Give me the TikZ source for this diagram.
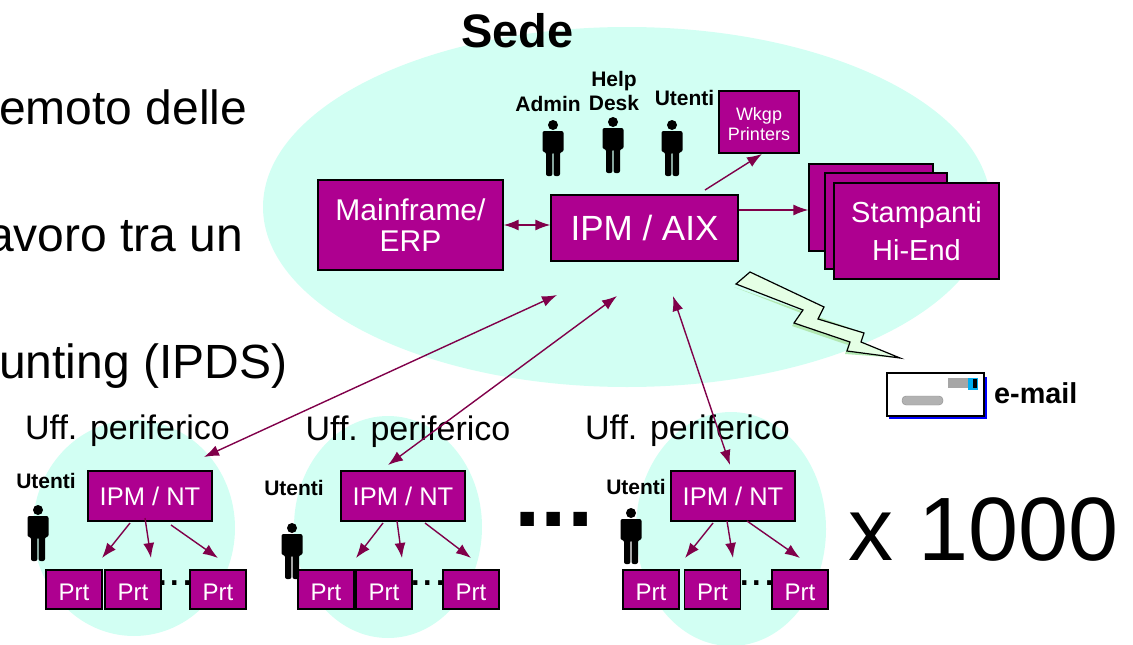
\documentclass[tikz,border=0pt]{standalone}
\usepackage{fontspec}
\setmainfont{Liberation Sans}
\usetikzlibrary{arrows.meta}
\definecolor{sedecol}{HTML}{D2FFF3}
\definecolor{boxcol}{HTML}{AE0090}
\definecolor{linkcol}{HTML}{80004A}
\newcommand{\fsize}[1]{\fontsize{#1}{\dimexpr #1pt*112/100\relax}\selectfont}
\tikzset{
	box/.style={draw=black,line width=1.3pt,fill=boxcol,text=white,align=center,inner sep=0pt},
	link/.style={->,draw=linkcol,line width=1.4pt},
	who/.style={font=\bfseries\fsize{21},align=center,inner sep=0pt},
	person/.pic={
		\fill[black] (0,-23) circle (5);
		\fill[black,rounded corners=2pt] (-10.5,-17) -- (10.5,-17) -- (10.5,4) -- (7,4) -- (7,28) -- (0.6,28) -- (0.6,4) -- (-0.6,4) -- (-0.6,28) -- (-7,28) -- (-7,4) -- (-10.5,4) -- cycle;
	}
}
\begin{document}
\begin{tikzpicture}[x=1pt,y=-1pt,>={Latex[length=15pt,width=11pt]}]
	\useasboundingbox (0,0) rectangle (1133,645);
	% the big and small clouds
	\fill[sedecol] (627,207) ellipse (364 and 180);
	\fill[sedecol] (134,528) ellipse (101 and 108);
	\fill[sedecol] (388,527) ellipse (94 and 111);
	\fill[sedecol] (731,529) ellipse (95 and 117);

	% text of the slide behind
	\node[anchor=base west,inner sep=0pt,font=\fsize{48}] (riga1) at (-1,124) {emoto delle};
	\node[anchor=base west,inner sep=0pt,font=\fsize{48}] (riga2) at (-13,251) {avoro tra un};
	\node[anchor=base west,inner sep=0pt,font=\fsize{48}] (riga3) at (-1,378) {unting (IPDS)};

	% the head office
	\node[inner sep=0pt,font=\bfseries\fsize{47}] (sede) at (517.5,31) {Sede};
	\node[box,minimum width=185,minimum height=90,font=\fsize{30}] (erp) at (410.5,225) {Mainframe/\\[-2pt]ERP};
	\node[box,minimum width=187,minimum height=66,font=\fsize{35}] (aix) at (644.5,228) {IPM / AIX};
	\node[box,minimum width=80,minimum height=62,font=\fsize{18}] (wkgp) at (759,122) {\rule{0pt}{17pt}Wkgp\\Printers};
	\node[box,minimum width=124,minimum height=87] (st3) at (871,207.5) {};
	\node[box,minimum width=122,minimum height=96] (st2) at (886,221) {};
	\node[box,minimum width=165,minimum height=96,font=\fsize{29}] (st1) at (916.5,231) {Stampanti\\[6pt]Hi-End};

	% the people of the head office
	\node[who] (admin) at (548,104) {Admin};
	\node[who] (help) at (614,91) {Help\\Desk};
	\node[who] (uten) at (684.5,98) {Utenti};
	\pic (padmin) at (553,148) {person};
	\pic (phelp) at (613,145) {person};
	\pic (puten) at (672,148) {person};

	% the three local offices
	\node[font=\fsize{34}] (uff1) at (127.5,431) {Uff. periferico};
	\node[font=\fsize{34}] (uff2) at (408,432) {Uff. periferico};
	\node[font=\fsize{34}] (uff3) at (687.5,431) {Uff. periferico};
	\foreach \nome/\xc in {a/150,b/403,c/733}{
		\node[box,minimum width=124,minimum height=50,font=\fsize{25.5}] (nt\nome) at (\xc,496) {IPM / NT};
	}
	\foreach \nome/\xc in {a1/74,a2/133,a3/218,b1/326,b2/384,b3/471,c1/651,c2/712.5,c3/800}{
		\node[box,minimum width=56,minimum height=39,font=\fsize{24},text height=21pt,text depth=0pt] (prt\nome) at (\xc,589.5) {Prt};
	}
	\node[who] (ua) at (46,481) {Utenti};
	\node[who] (ub) at (294,488) {Utenti};
	\node[who] (uc) at (636,487) {Utenti};
	\pic (pa) at (38,533) {person};
	\pic (pb) at (292,551) {person};
	\pic (pc) at (631,536) {person};

	% the dots
	\node[inner sep=0pt,font=\fsize{45}] (da) at (175,583) {...};
	\node[inner sep=0pt,font=\fsize{45}] (db) at (428,583) {...};
	\node[inner sep=0pt,font=\fsize{45}] (dc) at (757,583) {...};
	\node[inner sep=0pt,font=\bfseries\fsize{95}] (dd) at (554,519) {...};
	\node[inner sep=0pt,font=\fsize{90}] (mille) at (983.5,530) {x 1000};

	% the free ends of the arrows
	\coordinate (aixn) at (705,190);
	\coordinate (wkgps) at (762,154);
	\coordinate (aixa) at (557,295);
	\coordinate (aixb) at (617,296);
	\coordinate (aixc) at (673,296);
	\coordinate (nta) at (204,457);
	\coordinate (ntb) at (388,465);
	\coordinate (ntc) at (730,465);
	\foreach \nome/\xa/\xb/\ya in {a1/130/102/523,a2/145/151/518,a3/171/218/525,b1/383/356/523,b2/397/402/521,b3/425/471/523,c1/713/685/523,c2/727/733/521,c3/747/800/521}{
		\coordinate (from\nome) at (\xa,\ya);
		\coordinate (to\nome) at (\xb,558);
		\draw[link] (from\nome) -- (to\nome);
	}

	% the arrows
	\draw[link,<->] (erp.east) -- (erp.east -| aix.west);
	\draw[link] (aix.east |- 0,210) -- (st3.west |- 0,210);
	\draw[link] (aixn) -- (wkgps);
	\draw[link,<->] (aixa) -- (nta);
	\draw[link,<->] (aixb) -- (ntb);
	\draw[link,<->] (aixc) -- (ntc);

	% the lightning
	\fill[black!30!green!30!white] (734,287) -- (801,313) -- (792,326) -- (848,345) -- (845,354) -- (900,358) -- (861,343) -- (864,333) -- cycle;
	\draw[fill=white!90!green,line width=1.2pt,line join=miter] (736,284) -- (750,272) -- (824,307) -- (818,319) -- (864,333) -- (861,342) -- (900,358) -- (847,351) -- (850,342) -- (794,323) -- (803,310) -- cycle;

	% the envelope
	\fill[blue] (889,377) rectangle (987,419);
	\node[draw=black,fill=white,line width=1.1pt,minimum width=97,minimum height=43,inner sep=0pt] (busta) at (935.5,394.5) {};
	\fill[black!30,draw=black!45,rounded corners=4pt] (902,396) rectangle (943,405);
	\fill[black!35] (948,378) rectangle (968,388);
	\fill[cyan] (968,378) rectangle (978,390);
	\fill[black] (973,379) rectangle (977,388);
	\node[anchor=west,inner sep=0pt,font=\bfseries\fsize{28.8}] (email) at (994,393) {e-mail};
\end{tikzpicture}
\end{document}
